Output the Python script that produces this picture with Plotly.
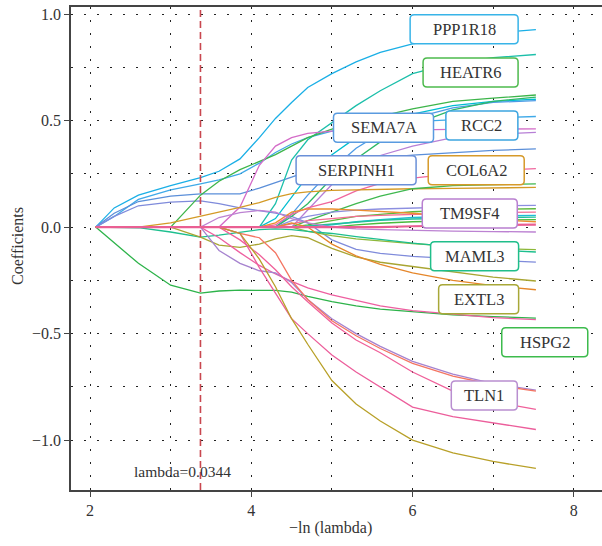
import numpy as np
import plotly.graph_objects as go

# -ln(lambda) grid of the path
neg_log_lambda = [2.07, 2.3, 2.6, 3.0, 3.37, 3.6, 3.86, 4.1, 4.3, 4.5, 4.7, 5.0, 5.3, 5.6, 6.0, 6.5, 7.0, 7.53]

# coefficient paths (one per variable)
c01 = [0, 0.09, 0.15, 0.195, 0.232, 0.262, 0.32, 0.42, 0.51, 0.585, 0.655, 0.72, 0.775, 0.82, 0.86, 0.89, 0.91, 0.927]
c02 = [0, 0.05, 0.13, 0.175, 0.203, 0.222, 0.25, 0.3, 0.35, 0.39, 0.42, 0.45, 0.47, 0.485, 0.495, 0.505, 0.513, 0.519]
c03 = [0, 0.065, 0.12, 0.145, 0.156, 0.157, 0.156, 0.183, 0.21, 0.235, 0.26, 0.29, 0.31, 0.325, 0.338, 0.35, 0.36, 0.367]
c04 = [0, 0.05, 0.1, 0.117, 0.123, 0.11, 0.09, 0.076, 0.066, 0.05, 0.02, -0.06, -0.105, -0.123, -0.137, -0.148, -0.157, -0.164]
c05 = [0, 0, 0, 0, 0, 0, 0, 0, 0.11, 0.315, 0.41, 0.49, 0.57, 0.64, 0.72, 0.77, 0.795, 0.81]
c06 = [0, 0, 0, 0, 0.15, 0.215, 0.27, 0.31, 0.34, 0.38, 0.42, 0.46, 0.49, 0.52, 0.555, 0.59, 0.605, 0.62]
c07 = [0, 0, 0, 0, 0, 0, 0, 0, 0.04, 0.14, 0.24, 0.34, 0.42, 0.48, 0.53, 0.57, 0.59, 0.60]
c08 = [0, 0, 0, 0, 0, 0, 0, 0, 0, 0.06, 0.15, 0.27, 0.37, 0.44, 0.51, 0.56, 0.585, 0.594]
c09 = [0, 0, 0, 0, 0, 0, 0, 0, 0, 0.05, 0.11, 0.23, 0.32, 0.4, 0.48, 0.55, 0.59, 0.61]
c10 = [0, 0, 0, 0, 0, 0, 0.094, 0.29, 0.38, 0.42, 0.44, 0.45, 0.453, 0.455, 0.457, 0.459, 0.46, 0.461]
c11 = [0, 0, 0, 0, 0, 0, 0, 0, 0, 0, 0.08, 0.2, 0.28, 0.336, 0.38, 0.42, 0.435, 0.445]
c12 = [0, 0, 0, 0, 0, 0, 0, 0, 0.01, 0.06, 0.09, 0.12, 0.17, 0.205, 0.23, 0.25, 0.265, 0.274]
c13 = [0, 0, 0, 0.02, 0.05, 0.07, 0.092, 0.115, 0.14, 0.157, 0.165, 0.172, 0.175, 0.178, 0.18, 0.182, 0.184, 0.186]
c14 = [0, 0, 0, 0, 0, 0, 0, 0, 0, 0, 0.03, 0.07, 0.11, 0.145, 0.18, 0.195, 0.2, 0.203]
c15 = [0, 0, 0, 0, 0, 0, 0, 0, 0, 0.03, 0.05, 0.07, 0.08, 0.085, 0.09, 0.095, 0.1, 0.102]
c16 = [0, 0, 0, 0, 0, 0, 0, 0, 0, 0, 0.01, 0.03, 0.05, 0.06, 0.072, 0.08, 0.084, 0.086]
c17 = [0, 0, 0, 0, 0, 0, 0, 0, 0, 0.015, 0.03, 0.04, 0.05, 0.055, 0.06, 0.065, 0.068, 0.07]
c18 = [0, 0, 0, 0, 0, 0, 0, 0, 0, 0, 0, 0.01, 0.025, 0.035, 0.045, 0.05, 0.053, 0.055]
c19 = [0, 0, 0, 0, 0, 0, 0, 0, 0, 0, 0.005, 0.015, 0.025, 0.032, 0.038, 0.042, 0.045, 0.047]
c20 = [0, 0, 0, 0, 0, 0, 0, 0, 0, 0, 0, 0, 0.01, 0.018, 0.025, 0.03, 0.033, 0.035]
c21 = [0, 0, 0, 0, 0, 0, 0, 0, 0.02, 0.07, 0.085, 0.085, 0.08, 0.075, 0.065, 0.05, 0.035, 0.025]
c22 = [0, 0, 0, 0, 0, 0.045, 0.068, 0.078, 0.07, 0.04, 0.02, 0.0, -0.008, -0.012, -0.016, -0.019, -0.021, -0.023]
c23 = [0, 0, 0, 0, 0, 0, 0, 0, 0, 0, -0.02, -0.04, -0.055, -0.065, -0.078, -0.09, -0.1, -0.106]
c24 = [0, 0, -0.003, -0.023, -0.047, -0.038, -0.025, -0.012, -0.008, -0.012, -0.02, -0.03, -0.045, -0.058, -0.075, -0.093, -0.107, -0.117]
c25 = [0, 0, 0, 0, -0.047, -0.085, -0.095, -0.08, -0.055, -0.04, -0.05, -0.1, -0.14, -0.165, -0.185, -0.21, -0.235, -0.253]
c26 = [0, 0, 0, 0, 0, 0, 0, 0, 0, 0.02, 0.0, -0.08, -0.135, -0.175, -0.215, -0.25, -0.275, -0.294]
c27 = [0, -0.075, -0.17, -0.273, -0.31, -0.30, -0.296, -0.297, -0.297, -0.305, -0.325, -0.35, -0.37, -0.385, -0.398, -0.412, -0.42, -0.427]
c28 = [0, 0, 0, 0, 0, -0.05, -0.12, -0.18, -0.22, -0.255, -0.285, -0.318, -0.345, -0.37, -0.392, -0.41, -0.425, -0.434]
c29 = [0, 0, 0, 0, 0, -0.11, -0.17, -0.205, -0.215, -0.26, -0.34, -0.43, -0.5, -0.56, -0.63, -0.69, -0.735, -0.765]
c30 = [0, 0, 0, 0, 0, 0, -0.03, -0.05, -0.12, -0.25, -0.34, -0.44, -0.51, -0.57, -0.64, -0.70, -0.74, -0.77]
c31 = [0, 0, 0, 0, 0, 0, -0.06, -0.13, -0.2, -0.28, -0.35, -0.45, -0.53, -0.59, -0.68, -0.77, -0.82, -0.856]
c32 = [0, 0, 0, 0, 0, 0, -0.03, -0.19, -0.31, -0.43, -0.5, -0.6, -0.68, -0.75, -0.845, -0.89, -0.92, -0.95]
c33 = [0, 0, 0, 0, 0, 0, -0.03, -0.15, -0.28, -0.43, -0.55, -0.72, -0.83, -0.91, -1.0, -1.06, -1.1, -1.133]
c34 = [0, 0, 0, 0, 0, 0, 0, 0, 0, 0, 0, 0, 0, 0, 0.004, 0.008, 0.01, 0.012]

series = [c01, c02, c03, c04, c05, c06, c07, c08, c09, c10, c11, c12, c13, c14, c15, c16, c17,
          c18, c19, c20, c21, c22, c23, c24, c25, c26, c27, c28, c29, c30, c31, c32, c33, c34]
colors = ["#1AAFE6", "#3FA9E8", "#5B8FD9", "#7F8BDB", "#1CBFAA", "#3DB54A", "#00BDD0", "#4D9BE6",
          "#2EB866", "#D46CC8", "#B77FD6", "#F0679E", "#D49A26", "#3FB84F", "#8C8FE0", "#5CB83A",
          "#F56E93", "#21BCD6", "#22C09B", "#49BA3C", "#EB8D2E", "#BC82D2", "#8DB83A", "#1DBF8E",
          "#A9A532", "#E5862A", "#2DB34A", "#EE5FA0", "#A683CF", "#F47562", "#F0609A", "#EC5E9B",
          "#B8A028", "#EA5F93"]

# gene labels: name, centre (x, y), box width, border colour
labels = ["PPP1R18", "HEATR6", "SEMA7A", "RCC2", "SERPINH1", "COL6A2", "TM9SF4", "MAML3", "EXTL3", "HSPG2", "TLN1"]
label_x = [6.64, 6.72, 5.64, 6.86, 5.30, 6.79, 6.71, 6.77, 6.82, 7.64, 6.89]
label_y = [0.929, 0.725, 0.466, 0.477, 0.267, 0.267, 0.064, -0.137, -0.339, -0.541, -0.791]
label_w = [108, 95, 100, 72, 120, 96, 95, 88, 80, 86, 66]
label_colors = ["#38B4E8", "#4DBA4D", "#5A9BE0", "#3DA5E0", "#6A90D8", "#D69A2A", "#B97FD0",
                "#20BE8A", "#A8A838", "#3DBB4D", "#B98ED0"]

best_lambda = 0.0344

FONT = "Liberation Serif"
BOX_H = 29
RAD = 4


def rounded_box(w, h, r):
    a, b = w / 2, h / 2
    return (f"M {-a + r},{-b} L {a - r},{-b} Q {a},{-b} {a},{-b + r} "
            f"L {a},{b - r} Q {a},{b} {a - r},{b} L {-a + r},{b} Q {-a},{b} {-a},{b - r} "
            f"L {-a},{-b + r} Q {-a},{-b} {-a + r},{-b} Z")


fig = go.Figure()
for ys, col in zip(series, colors):
    fig.add_trace(go.Scatter(x=neg_log_lambda, y=ys, mode="lines",
                             line=dict(color=col, width=1.3 if ys is not c34 else 2.2),
                             showlegend=False, hoverinfo="skip"))

vx = -np.log(best_lambda)
fig.add_shape(type="line", x0=vx, x1=vx, y0=0, y1=1, xref="x", yref="paper",
              line=dict(color="#C9474F", width=1.6, dash="7px,4px"))

fig.add_annotation(x=3.15, y=-1.148, text="lambda=" + str(best_lambda), showarrow=False,
                   font=dict(family=FONT, size=15.5, color="#333"))

for name, lx, ly, lw, lc in zip(labels, label_x, label_y, label_w, label_colors):
    fig.add_shape(type="path", xref="x", yref="y", xsizemode="pixel", ysizemode="pixel",
                  xanchor=lx, yanchor=ly, path=rounded_box(lw, BOX_H, RAD),
                  fillcolor="white", line=dict(color=lc, width=1.5), layer="above")
    fig.add_annotation(x=lx, y=ly, text=name, showarrow=False,
                       font=dict(family=FONT, size=16.5, color="#333"))

# axis titles
fig.add_annotation(xref="paper", yref="paper", x=-0.102, y=0.505, xanchor="center", yanchor="middle",
                   text="Coefficients", textangle=-90, showarrow=False,
                   font=dict(family=FONT, size=16, color="#333"))
fig.add_annotation(xref="paper", yref="paper", x=0.488, y=-0.079, xanchor="center", yanchor="middle",
                   text="\u2212ln (lambda)", showarrow=False,
                   font=dict(family=FONT, size=16, color="#333"))

grid_dash = "1.5px,11.5px"
fig.update_layout(
    width=602, height=546,
    margin=dict(l=71, r=0, t=7, b=56),
    plot_bgcolor="white", paper_bgcolor="white",
    font=dict(family=FONT, size=16, color="#333"),
    xaxis=dict(range=[1.764, 8.35], tickvals=[2, 4, 6, 8], ticks="outside", ticklen=5,
               tickcolor="#444", showline=True, linecolor="#444", linewidth=1.5, mirror=True,
               showgrid=True, gridcolor="#222", gridwidth=1.3, griddash=grid_dash,
               minor=dict(dtick=1, tick0=0, showgrid=True, gridcolor="#222", gridwidth=1.3, griddash=grid_dash),
               zeroline=False, automargin=False),
    yaxis=dict(range=[-1.234, 1.033], tickvals=[-1.0, -0.5, 0.0, 0.5, 1.0], tickformat=".1f",
               ticks="outside", ticklen=5, tickcolor="#444", showline=True, linecolor="#444",
               linewidth=1.5, showgrid=True, gridcolor="#222", gridwidth=1.3, griddash=grid_dash,
               minor=dict(dtick=0.25, tick0=0, showgrid=True, gridcolor="#222", gridwidth=1.3, griddash=grid_dash),
               zeroline=False, automargin=False),
)

# remove the default 8px page margin so the figure sits at the window origin
fig.write_html("out.html", config={"displayModeBar": False},
               post_script="document.body.style.margin='0px';")
